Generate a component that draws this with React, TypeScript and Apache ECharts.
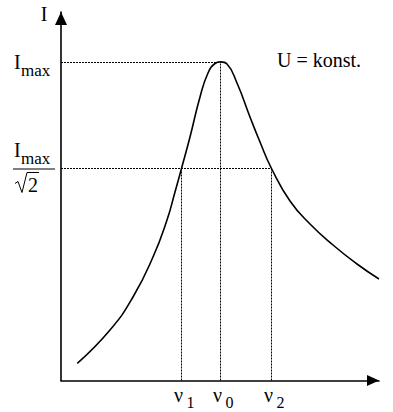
import { useEffect, useRef } from "react";
import * as echarts from "echarts";

// Resonance curve I(ν) at constant U (arbitrary units)
const curveNu = [16.3, 49, 72, 92, 106, 114, 120.5, 129, 139, 147, 154, 159.5, 166, 176, 189, 199, 210.5, 229, 249, 272, 296, 318];
const curveI = [17.2, 50.5, 83.5, 123.5, 160.5, 188.5, 212, 243.5, 283.5, 307.5, 317, 318.6, 316.5, 297.5, 263.5, 238.5, 212, 179.5, 156.5, 135.5, 116.5, 101.5];

const freqSubs = ["1", "0", "2"];
const freqValues = [120.5, 159.5, 210.5];
const levelValues = [318, 212]; // I_max, I_max/√2 (as drawn)
const xMax = 318;
const yMax = 368.5;

const FONT = "Liberation Serif";

export default function App() {
  const ref = useRef<HTMLDivElement>(null);
  useEffect(() => {
    if (!ref.current) return;
    const chart = echarts.init(ref.current, null, { renderer: "svg" });
    const [nu1, nu0, nu2] = freqValues;
    const [iMax, iHalf] = levelValues;
    const dotted = { type: [2, 1], color: "#000", width: 1 };
    chart.setOption({
      animation: false,
      backgroundColor: "#fff",
      textStyle: { fontFamily: FONT },
      grid: { left: 61, right: 14, top: 12, bottom: 31.5 },
      xAxis: {
        type: "value",
        min: 0,
        max: xMax,
        axisLine: {
          show: true,
          onZero: false,
          symbol: ["none", "triangle"],
          symbolSize: [11, 12],
          symbolOffset: [0, -6],
          lineStyle: { color: "#000", width: 1.6 },
        },
        axisTick: { show: false },
        axisLabel: { show: false },
        splitLine: { show: false },
      },
      yAxis: {
        type: "value",
        min: 0,
        max: yMax,
        axisLine: {
          show: true,
          onZero: false,
          symbol: ["none", "triangle"],
          symbolSize: [12, 13],
          symbolOffset: [0, -6.5],
          lineStyle: { color: "#000", width: 1.6 },
        },
        axisTick: { show: false },
        axisLabel: { show: false },
        splitLine: { show: false },
      },
      series: [
        {
          type: "line",
          data: curveNu.map((x, i) => [x, curveI[i]]),
          smooth: 0.5,
          symbol: "none",
          clip: false,
          lineStyle: { color: "#000", width: 1.6 },
          markLine: {
            silent: true,
            symbol: ["none", "none"],
            label: { show: false },
            lineStyle: dotted,
            data: [
              [{ coord: [0, iMax] }, { coord: [nu0, iMax] }],
              [{ coord: [nu0, 0] }, { coord: [nu0, iMax] }],
              [{ coord: [0, iHalf] }, { coord: [nu2, iHalf] }],
              [{ coord: [nu1, 0] }, { coord: [nu1, iHalf] }],
              [{ coord: [nu2, 0] }, { coord: [nu2, iHalf] }],
            ],
          },
        },
      ],
    });

    const px = (x: number, y: number) => chart.convertToPixel({ gridIndex: 0 }, [x, y]) as number[];
    const txt = (text: string, x: number, y: number, size: number, align = "left") => ({
      type: "text",
      x,
      y,
      silent: true,
      style: { text, fill: "#000", fontSize: size, fontFamily: FONT, align, verticalAlign: "middle" },
    });
    const origin = px(0, 0);
    const top = px(0, yMax);
    const right = px(xMax, 0);
    const pMax = px(0, iMax);
    const pHalf = px(0, iHalf);
    const elements: any[] = [];
    // y-axis name
    elements.push(txt("I", origin[0] - 17, top[1] + 2, 20, "center"));
    // I_max
    elements.push(txt("I", 14, pMax[1] - 1, 20));
    elements.push(txt("max", 21, pMax[1] + 8, 17));
    // I_max / √2
    elements.push(txt("I", 14, pHalf[1] - 19, 20));
    elements.push(txt("max", 21, pHalf[1] - 10, 17));
    elements.push({
      type: "line",
      silent: true,
      shape: { x1: 13, y1: pHalf[1] + 0.5, x2: 55, y2: pHalf[1] + 0.5 },
      style: { stroke: "#000", lineWidth: 1 },
    });
    elements.push({
      type: "polyline",
      silent: true,
      shape: {
        points: [
          [15, pHalf[1] + 15],
          [18, pHalf[1] + 13],
          [22, pHalf[1] + 24],
          [27, pHalf[1] + 4],
          [39, pHalf[1] + 4],
        ],
      },
      style: { stroke: "#000", lineWidth: 1, fill: null },
    });
    elements.push(txt("2", 28, pHalf[1] + 16, 20));
    // frequency labels
    freqValues.forEach((v, i) => {
      const p = px(v, 0);
      elements.push(txt("ν", p[0] - 3, origin[1] + 14, 20, "center"));
      elements.push(txt(freqSubs[i], p[0] + 5, origin[1] + 22, 16));
    });
    // U = konst.
    elements.push(txt("U = konst.", right[0] - 102, pMax[1] - 3, 20));
    chart.setOption({ graphic: { elements } });

    return () => chart.dispose();
  }, []);
  return <div ref={ref} style={{ position: "fixed", left: 0, top: 0, width: 393, height: 412 }} />;
}
